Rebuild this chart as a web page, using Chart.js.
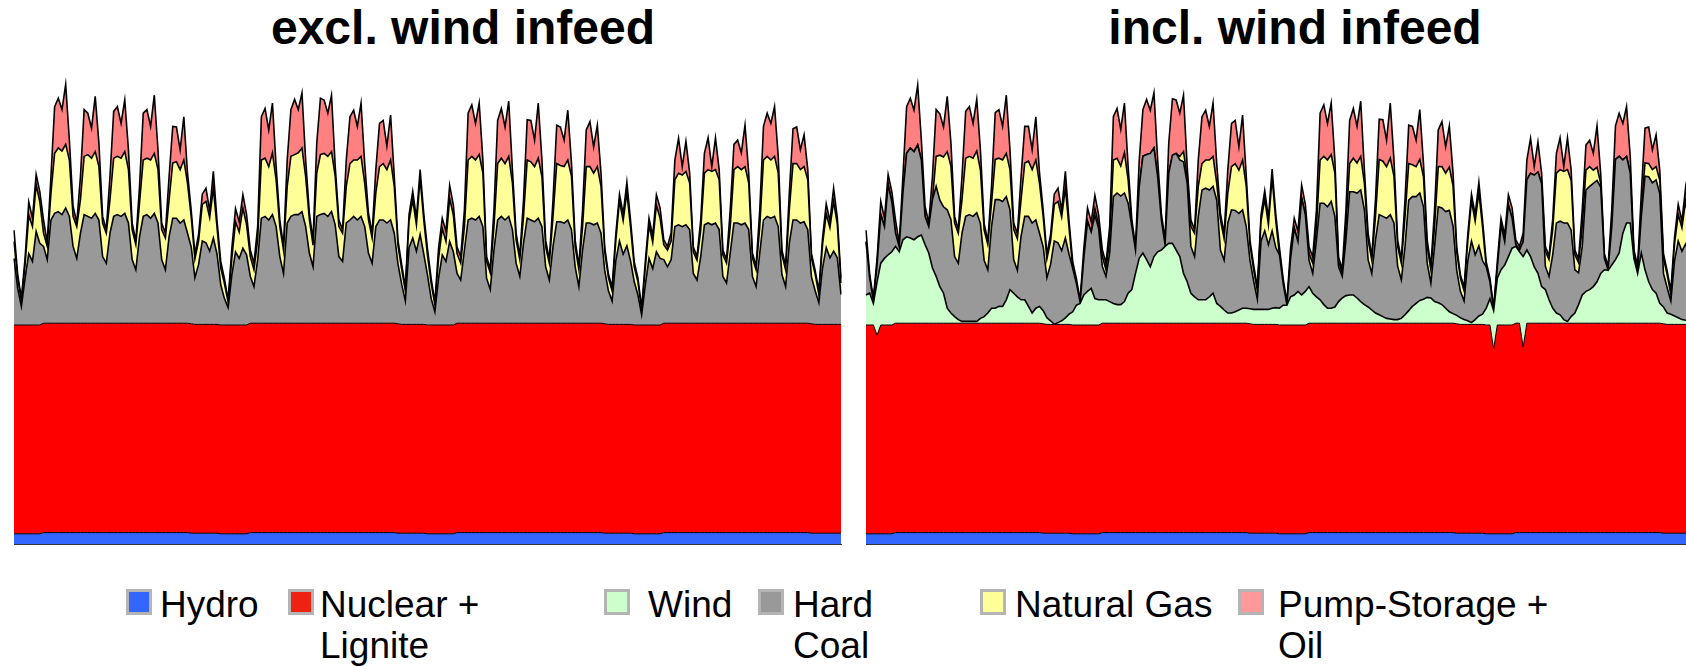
<!DOCTYPE html>
<html>
<head>
<meta charset="utf-8">
<script src="https://cdn.jsdelivr.net/npm/chart.js@4.4.1/dist/chart.umd.min.js"></script>
<style>
  html, body { margin: 0; padding: 0; background: #fff; overflow: hidden; width: 1686px; height: 666px; }
  body { position: relative; font-family: "Liberation Sans", Arial, Helvetica, sans-serif; color: #000; }
  .panel { position: absolute; top: 60px; }
  .title { position: absolute; top: 4px; font-weight: bold; font-size: 48px; line-height: 48px; white-space: nowrap; transform: translateX(-50%); }
  .key { position: absolute; top: 589px; width: 20px; height: 20px; border: 3px solid #b4b4b4; }
  .lab { position: absolute; top: 584px; font-size: 37px; line-height: 41px; white-space: nowrap; }
</style>
</head>
<body>
<div class="title" style="left:463px">excl. wind infeed</div>
<div class="title" style="left:1295px">incl. wind infeed</div>
<canvas id="excl" class="panel" style="left:12px" width="832" height="488"></canvas>
<canvas id="incl" class="panel" style="left:864px" width="832" height="488"></canvas>

<div class="key" style="left:126px;background:#3366ff"></div>
<div class="lab" style="left:160px">Hydro</div>
<div class="key" style="left:288px;background:#ee2211"></div>
<div class="lab" style="left:320px">Nuclear +<br>Lignite</div>
<div class="key" style="left:604px;background:#ccffcc"></div>
<div class="lab" style="left:648px">Wind</div>
<div class="key" style="left:758px;background:#999999"></div>
<div class="lab" style="left:793px">Hard<br>Coal</div>
<div class="key" style="left:980px;background:#ffff99"></div>
<div class="lab" style="left:1015px">Natural Gas</div>
<div class="key" style="left:1238px;background:#ff9999"></div>
<div class="lab" style="left:1278px">Pump-Storage +<br>Oil</div>

<script>
// 3-hourly values over four weeks (GW), one line per day, last value = end of day 28
const hydro = [
  1.7, 1.7, 1.7, 1.7, 1.7, 1.7, 1.7, 1.7,
  1.9, 1.9, 1.9, 1.9, 1.9, 1.9, 1.9, 1.9,
  1.9, 1.9, 1.9, 1.9, 1.9, 1.9, 1.9, 1.9,
  1.9, 1.9, 1.9, 1.9, 1.9, 1.9, 1.9, 1.9,
  1.9, 1.9, 1.9, 1.9, 1.9, 1.9, 1.9, 1.9,
  1.9, 1.9, 1.9, 1.9, 1.9, 1.9, 1.9, 1.9,
  1.8, 1.8, 1.8, 1.8, 1.8, 1.8, 1.8, 1.8,
  1.7, 1.7, 1.7, 1.7, 1.7, 1.7, 1.7, 1.7,
  1.9, 1.9, 1.9, 1.9, 1.9, 1.9, 1.9, 1.9,
  1.9, 1.9, 1.9, 1.9, 1.9, 1.9, 1.9, 1.9,
  1.9, 1.9, 1.9, 1.9, 1.9, 1.9, 1.9, 1.9,
  1.9, 1.9, 1.9, 1.9, 1.9, 1.9, 1.9, 1.9,
  1.9, 1.9, 1.9, 1.9, 1.9, 1.9, 1.9, 1.9,
  1.8, 1.8, 1.8, 1.8, 1.8, 1.8, 1.8, 1.8,
  1.7, 1.7, 1.7, 1.7, 1.7, 1.7, 1.7, 1.7,
  1.9, 1.9, 1.9, 1.9, 1.9, 1.9, 1.9, 1.9,
  1.9, 1.9, 1.9, 1.9, 1.9, 1.9, 1.9, 1.9,
  1.9, 1.9, 1.9, 1.9, 1.9, 1.9, 1.9, 1.9,
  1.9, 1.9, 1.9, 1.9, 1.9, 1.9, 1.9, 1.9,
  1.9, 1.9, 1.9, 1.9, 1.9, 1.9, 1.9, 1.9,
  1.8, 1.8, 1.8, 1.8, 1.8, 1.8, 1.8, 1.8,
  1.7, 1.7, 1.7, 1.7, 1.7, 1.7, 1.7, 1.7,
  1.9, 1.9, 1.9, 1.9, 1.9, 1.9, 1.9, 1.9,
  1.9, 1.9, 1.9, 1.9, 1.9, 1.9, 1.9, 1.9,
  1.9, 1.9, 1.9, 1.9, 1.9, 1.9, 1.9, 1.9,
  1.9, 1.9, 1.9, 1.9, 1.9, 1.9, 1.9, 1.9,
  1.9, 1.9, 1.9, 1.9, 1.9, 1.9, 1.9, 1.9,
  1.8, 1.8, 1.8, 1.8, 1.8, 1.8, 1.8, 1.8,
  1.8
];

const nuclearLignite = [
  34.8, 34.8, 34.8, 34.8, 34.8, 34.8, 34.8, 34.8,
  34.9, 34.9, 34.9, 34.9, 34.9, 34.9, 34.9, 34.9,
  34.9, 34.9, 34.9, 34.9, 34.9, 34.9, 34.9, 34.9,
  34.9, 34.9, 34.9, 34.9, 34.9, 34.9, 34.9, 34.9,
  34.9, 34.9, 34.9, 34.9, 34.9, 34.9, 34.9, 34.9,
  34.9, 34.9, 34.9, 34.9, 34.9, 34.9, 34.9, 34.9,
  34.9, 34.8, 34.8, 34.8, 34.8, 34.8, 34.8, 34.8,
  34.8, 34.8, 34.8, 34.8, 34.8, 34.8, 34.8, 34.8,
  34.9, 34.9, 34.9, 34.9, 34.9, 34.9, 34.9, 34.9,
  34.9, 34.9, 34.9, 34.9, 34.9, 34.9, 34.9, 34.9,
  34.9, 34.9, 34.9, 34.9, 34.9, 34.9, 34.9, 34.9,
  34.9, 34.9, 34.9, 34.9, 34.9, 34.9, 34.9, 34.9,
  34.9, 34.9, 34.9, 34.9, 34.9, 34.9, 34.9, 34.9,
  34.9, 34.8, 34.8, 34.8, 34.8, 34.8, 34.8, 34.8,
  34.8, 34.8, 34.8, 34.8, 34.8, 34.8, 34.8, 34.8,
  34.9, 34.9, 34.9, 34.9, 34.9, 34.9, 34.9, 34.9,
  34.9, 34.9, 34.9, 34.9, 34.9, 34.9, 34.9, 34.9,
  34.9, 34.9, 34.9, 34.9, 34.9, 34.9, 34.9, 34.9,
  34.9, 34.9, 34.9, 34.9, 34.9, 34.9, 34.9, 34.9,
  34.9, 34.9, 34.9, 34.9, 34.9, 34.9, 34.9, 34.9,
  34.9, 34.8, 34.8, 34.8, 34.8, 34.8, 34.8, 34.8,
  34.8, 34.8, 34.8, 34.8, 34.8, 34.8, 34.8, 34.8,
  34.9, 34.9, 34.9, 34.9, 34.9, 34.9, 34.9, 34.9,
  34.9, 34.9, 34.9, 34.9, 34.9, 34.9, 34.9, 34.9,
  34.9, 34.9, 34.9, 34.9, 34.9, 34.9, 34.9, 34.9,
  34.9, 34.9, 34.9, 34.9, 34.9, 34.9, 34.9, 34.9,
  34.9, 34.9, 34.9, 34.9, 34.9, 34.9, 34.9, 34.9,
  34.9, 34.8, 34.8, 34.8, 34.8, 34.8, 34.8, 34.8,
  34.8
];

// lignite backed off when wind is strong (right panel only): hour, GW
const curtailHours = [9, 510, 534];
const curtailGW = [1.7, 4.0, 4.0];

const hardCoal = [
  11.1, 6.1, 3.1, 7.8, 11.9, 10.6, 15.6, 13.6,
  12.8, 10.6, 17.2, 18.3, 18.6, 18.1, 19.2, 17.8,
  12.8, 10.8, 15.0, 18.1, 17.8, 17.5, 18.3, 17.2,
  11.1, 10.0, 15.0, 17.8, 18.1, 17.8, 18.3, 16.7,
  10.6, 8.9, 14.4, 17.8, 18.1, 17.5, 18.3, 16.7,
  10.6, 8.9, 14.4, 17.5, 17.5, 16.7, 17.2, 15.0,
  12.8, 7.8, 10.0, 13.9, 13.6, 12.2, 14.4, 11.7,
  6.7, 4.4, 2.9, 8.3, 12.2, 11.1, 12.8, 11.7,
  7.8, 6.1, 10.6, 17.5, 17.8, 17.2, 18.1, 16.1,
  11.1, 8.3, 16.7, 17.8, 18.1, 18.1, 18.6, 16.1,
  11.7, 9.4, 17.8, 18.1, 18.3, 17.8, 18.6, 16.4,
  11.1, 10.3, 16.7, 17.2, 17.8, 17.2, 17.8, 16.1,
  11.7, 10.0, 16.1, 17.2, 17.2, 16.7, 17.2, 15.0,
  10.0, 6.7, 3.9, 12.8, 14.4, 12.2, 15.0, 11.7,
  8.3, 4.4, 2.2, 7.8, 11.7, 10.6, 13.9, 12.2,
  8.3, 7.2, 12.2, 17.2, 17.5, 17.2, 17.8, 16.1,
  7.5, 5.6, 12.2, 17.2, 17.8, 17.2, 17.8, 15.6,
  10.0, 7.8, 13.3, 17.5, 17.2, 16.9, 17.5, 16.1,
  9.4, 7.2, 12.8, 16.9, 16.9, 16.7, 17.2, 15.6,
  9.4, 6.1, 12.2, 16.7, 16.7, 16.4, 16.7, 15.0,
  8.9, 5.6, 3.9, 10.6, 13.9, 11.7, 13.1, 10.6,
  7.2, 5.0, 1.7, 6.7, 11.1, 9.4, 12.2, 11.1,
  10.6, 9.4, 10.6, 16.1, 16.4, 16.1, 16.4, 15.6,
  8.3, 7.2, 11.1, 16.4, 16.7, 16.4, 16.7, 15.6,
  7.8, 6.7, 11.7, 16.7, 16.7, 16.4, 16.7, 15.6,
  7.8, 6.1, 11.7, 17.2, 17.8, 17.5, 17.8, 16.1,
  8.1, 6.1, 13.3, 17.2, 17.2, 16.7, 16.9, 15.6,
  7.8, 5.6, 3.6, 9.4, 12.8, 11.1, 12.2, 11.1,
  5.0
];

const naturalGas = [
  2.8, 1.7, 0.9, 2.2, 6.4, 5.8, 7.8, 6.9,
  2.2, 2.2, 4.4, 10.0, 10.6, 10.6, 10.6, 9.4,
  5.0, 5.3, 5.6, 9.7, 10.3, 10.0, 10.3, 8.9,
  5.6, 5.0, 5.6, 9.7, 9.7, 9.7, 10.3, 8.9,
  5.0, 4.2, 5.6, 9.4, 9.4, 9.7, 10.0, 8.9,
  5.0, 5.3, 6.1, 9.2, 9.4, 8.9, 10.0, 8.3,
  5.0, 3.1, 3.9, 6.1, 6.9, 5.6, 8.3, 4.4,
  2.8, 2.5, 0.9, 2.8, 5.0, 4.4, 6.7, 5.0,
  3.3, 2.8, 3.3, 9.7, 9.7, 8.9, 10.3, 7.8,
  5.0, 3.9, 6.1, 10.0, 10.0, 10.3, 10.6, 8.3,
  5.6, 3.6, 7.2, 10.0, 10.0, 10.0, 10.0, 8.1,
  5.0, 4.7, 6.1, 9.4, 9.4, 10.0, 10.0, 7.2,
  5.6, 4.2, 5.6, 8.9, 9.4, 8.9, 10.0, 7.8,
  3.1, 2.5, 1.7, 4.4, 6.4, 4.4, 9.4, 5.6,
  3.3, 2.5, 1.2, 3.3, 4.4, 3.3, 7.2, 6.1,
  3.3, 2.8, 3.9, 10.0, 10.3, 10.0, 10.3, 8.9,
  2.8, 2.8, 3.9, 9.4, 9.7, 9.4, 10.0, 7.8,
  3.9, 2.8, 4.4, 9.7, 9.7, 9.2, 10.0, 8.3,
  3.3, 2.8, 5.0, 9.7, 9.4, 9.4, 10.0, 8.9,
  3.3, 2.8, 3.9, 9.4, 9.4, 8.6, 9.4, 7.8,
  3.1, 2.2, 1.7, 3.3, 6.7, 5.6, 8.9, 5.6,
  2.5, 2.2, 0.8, 2.8, 5.6, 4.4, 7.8, 6.7,
  2.5, 2.8, 3.1, 7.8, 8.6, 8.6, 8.9, 7.8,
  3.6, 3.3, 4.4, 8.6, 8.9, 8.9, 8.9, 8.3,
  3.6, 3.3, 4.4, 8.9, 9.4, 9.2, 9.4, 7.8,
  3.1, 2.8, 4.4, 10.0, 10.0, 9.7, 10.0, 8.9,
  3.3, 2.8, 5.6, 9.4, 9.4, 8.9, 9.2, 8.3,
  3.1, 2.8, 1.4, 3.9, 5.6, 5.0, 8.3, 5.6,
  1.9
];

const pumpOil = [
  1.9, 0.6, 0.4, 1.1, 2.2, 1.4, 1.7, 1.7,
  2.2, 0.6, 2.8, 7.8, 8.3, 6.9, 10.0, 3.3,
  1.7, 0.6, 3.9, 7.8, 6.9, 5.0, 9.2, 3.9,
  1.1, 0.6, 3.9, 7.8, 8.3, 5.8, 8.6, 3.3,
  1.1, 0.6, 2.8, 7.8, 8.1, 5.6, 9.7, 3.3,
  1.1, 0.8, 3.9, 6.1, 5.8, 3.3, 7.2, 1.7,
  1.1, 0.8, 1.1, 1.7, 2.2, 1.1, 2.8, 1.1,
  1.1, 0.8, 0.4, 1.7, 2.2, 1.7, 2.2, 1.7,
  1.1, 1.1, 2.2, 7.2, 8.3, 6.1, 8.3, 2.2,
  1.1, 0.6, 4.4, 7.8, 9.2, 7.2, 9.2, 2.8,
  1.1, 0.8, 5.0, 9.4, 8.9, 7.2, 9.4, 1.7,
  1.1, 0.6, 4.4, 7.8, 8.3, 5.6, 8.9, 3.3,
  1.1, 0.8, 3.9, 7.2, 7.2, 3.9, 7.5, 1.7,
  0.8, 0.8, 0.6, 1.1, 1.4, 1.1, 1.4, 1.1,
  1.1, 0.8, 0.4, 1.7, 1.7, 1.7, 2.2, 1.7,
  1.1, 1.1, 2.8, 7.8, 8.6, 6.1, 8.6, 2.2,
  0.8, 0.6, 2.8, 7.2, 8.3, 6.1, 9.2, 2.2,
  1.1, 0.6, 2.8, 6.7, 6.9, 4.4, 9.2, 2.8,
  1.1, 0.6, 2.8, 6.4, 6.4, 4.4, 8.3, 2.2,
  1.1, 0.6, 2.8, 6.1, 7.5, 4.4, 6.9, 2.2,
  0.8, 0.6, 0.6, 1.1, 1.1, 1.1, 1.7, 1.1,
  0.8, 0.6, 0.3, 1.1, 1.1, 1.1, 1.7, 1.7,
  0.8, 0.6, 1.4, 3.3, 5.8, 1.4, 5.0, 1.7,
  0.8, 0.6, 1.7, 3.3, 5.3, 0.8, 5.3, 1.7,
  0.8, 0.6, 2.8, 4.2, 4.4, 2.8, 6.9, 1.7,
  0.8, 0.6, 2.8, 5.6, 7.2, 6.1, 8.3, 2.8,
  0.8, 0.6, 2.8, 5.8, 6.1, 3.3, 5.3, 1.7,
  0.8, 0.6, 0.6, 1.1, 1.7, 1.1, 2.2, 1.1,
  0.8
];

const wind = [
  5.0, 5.3, 3.6, 8.9, 10.3, 11.1, 11.7, 12.2,
  12.8, 11.9, 13.9, 14.4, 14.2, 13.9, 14.4, 14.7,
  13.1, 11.7, 9.2, 7.8, 6.1, 5.0, 2.5, 1.7,
  1.1, 0.6, 0.3, 0.3, 0.3, 0.3, 0.3, 0.8,
  1.1, 1.7, 2.5, 2.5, 2.8, 2.8, 3.9, 5.6,
  5.0, 4.4, 3.9, 3.9, 2.8, 1.7, 2.5, 2.8,
  2.2, 1.1, 0.6, 0.0, 0.3, 0.6, 1.1, 1.7,
  2.2, 3.3, 3.6, 5.0, 5.6, 6.1, 4.4, 4.2,
  3.9, 3.9, 3.6, 3.3, 3.1, 3.1, 3.6, 5.0,
  5.6, 8.3, 10.8, 11.7, 10.6, 9.4, 11.1, 11.9,
  12.2, 12.8, 13.3, 13.3, 12.2, 11.1, 8.3, 6.9,
  5.0, 4.4, 3.9, 3.9, 3.9, 4.4, 5.0, 3.3,
  2.8, 2.2, 1.7, 1.7, 1.9, 2.2, 2.5, 2.5,
  2.5, 2.5, 2.5, 2.5, 2.5, 2.5, 2.7, 2.8,
  2.8, 3.3, 3.3, 4.7, 5.0, 5.6, 5.0, 5.6,
  6.1, 5.0, 4.4, 3.9, 3.1, 2.5, 2.5, 2.7,
  3.6, 4.2, 4.6, 4.7, 4.7, 4.2, 3.6, 3.1,
  2.7, 2.2, 1.7, 1.4, 1.1, 0.8, 0.7, 0.6,
  0.6, 0.8, 1.4, 2.1, 2.8, 3.3, 3.8, 4.0,
  4.3, 4.2, 3.6, 3.4, 3.1, 2.5, 1.9, 1.6,
  1.4, 1.1, 0.8, 0.6, 0.3, 0.8, 1.4, 1.7,
  2.8, 4.4, 6.4, 7.8, 9.2, 10.0, 11.4, 12.8,
  12.8, 11.9, 15.1, 12.2, 11.1, 9.4, 8.3, 6.1,
  5.6, 3.9, 2.5, 1.7, 1.4, 0.6, 0.3, 1.1,
  1.7, 3.1, 4.7, 5.3, 5.6, 6.1, 6.9, 8.3,
  8.9, 8.8, 9.7, 10.6, 11.7, 15.0, 16.7, 16.7,
  10.8, 8.3, 11.7, 8.9, 6.9, 5.6, 5.0, 3.3,
  2.8, 1.9, 1.7, 1.4, 1.1, 0.8, 0.7, 0.6,
  0.6
];

const hardCoalIncl = [
  8.9, 2.5, 0.4, 2.8, 8.1, 5.3, 11.7, 8.3,
  2.2, 0.8, 7.8, 13.9, 15.0, 14.7, 15.3, 12.5,
  4.7, 4.4, 11.4, 15.0, 14.4, 14.4, 16.4, 15.6,
  10.0, 9.4, 14.7, 17.5, 17.8, 17.5, 18.1, 15.8,
  9.4, 7.2, 13.6, 18.1, 17.8, 17.5, 17.2, 13.3,
  5.6, 4.4, 10.6, 13.9, 15.0, 15.0, 14.7, 12.2,
  10.6, 6.7, 9.4, 13.9, 13.3, 11.7, 13.3, 10.0,
  7.2, 3.6, 0.2, 6.1, 11.7, 9.4, 13.9, 11.9,
  5.6, 3.9, 8.1, 17.8, 18.6, 18.1, 18.1, 15.0,
  10.6, 3.9, 11.9, 16.1, 17.5, 18.9, 18.1, 12.5,
  5.0, 0.3, 11.7, 14.7, 16.1, 16.1, 18.6, 16.4,
  7.8, 6.7, 13.9, 18.3, 18.6, 17.8, 17.8, 17.2,
  9.4, 8.3, 15.0, 17.2, 16.9, 16.1, 16.4, 13.6,
  8.1, 4.7, 1.7, 11.4, 13.1, 10.8, 12.9, 10.0,
  8.9, 3.6, 0.1, 6.4, 11.1, 8.3, 16.1, 12.8,
  4.4, 3.3, 9.4, 16.1, 16.9, 16.9, 17.8, 15.1,
  5.8, 3.6, 9.3, 17.2, 17.2, 17.5, 18.6, 15.8,
  7.9, 6.1, 12.2, 16.7, 16.7, 16.7, 17.4, 16.1,
  8.9, 6.4, 11.4, 18.4, 18.3, 17.8, 17.9, 15.4,
  5.7, 2.5, 9.2, 16.0, 16.1, 16.1, 16.9, 14.6,
  7.5, 4.4, 3.1, 10.0, 13.6, 10.8, 11.7, 8.9,
  6.9, 2.8, 0.1, 1.7, 7.5, 3.9, 8.6, 5.0,
  0.3, 0.3, 2.5, 11.7, 13.9, 15.3, 16.9, 17.2,
  3.9, 3.9, 8.9, 15.0, 15.6, 16.1, 16.4, 14.4,
  7.2, 5.3, 8.1, 16.9, 17.2, 17.2, 16.9, 14.4,
  1.9, 0.1, 6.4, 16.7, 16.1, 12.2, 11.1, 8.3,
  0.6, 0.6, 6.1, 15.6, 17.5, 17.8, 18.9, 18.3,
  5.6, 4.2, 2.2, 9.2, 12.8, 11.4, 12.7, 11.1,
  4.7
];

const naturalGasIncl = [
  0, 0, 0, 0, 0, 0, 0, 0,
  0, 0, 0, 0, 0, 0, 0, 0,
  0, 0, 0, 5.0, 7.5, 8.3, 9.7, 8.9,
  5.6, 5.0, 5.6, 9.7, 9.7, 9.7, 10.3, 8.9,
  5.0, 4.2, 3.9, 6.7, 6.9, 6.9, 7.2, 6.7,
  5.0, 5.3, 6.1, 8.9, 9.2, 8.9, 10.0, 8.3,
  5.0, 3.1, 3.9, 6.1, 6.9, 5.6, 8.3, 4.4,
  0, 0, 0, 0, 0, 0, 1.1, 0.6,
  1.7, 1.1, 2.2, 6.1, 5.8, 5.0, 6.7, 3.9,
  0, 0, 0, 0, 0, 0, 0, 0,
  0, 0, 0, 0, 0, 0.6, 1.7, 1.1,
  3.3, 3.9, 5.0, 4.4, 4.7, 5.0, 5.0, 2.8,
  5.0, 3.6, 5.0, 7.2, 7.8, 7.2, 8.3, 6.7,
  2.5, 1.9, 1.4, 3.3, 5.3, 3.3, 8.9, 4.4,
  0, 0, 0, 0, 0, 0, 0, 0,
  1.1, 1.7, 2.2, 7.2, 7.8, 7.8, 7.8, 7.2,
  0.8, 0.6, 2.2, 4.7, 5.6, 5.0, 5.6, 4.4,
  3.3, 2.2, 3.9, 9.2, 9.2, 8.6, 9.4, 7.8,
  3.3, 2.8, 5.0, 6.1, 5.3, 5.0, 5.6, 5.0,
  2.8, 2.2, 3.3, 6.7, 6.9, 6.4, 7.2, 6.7,
  3.1, 2.2, 1.7, 3.3, 6.7, 5.6, 8.9, 5.6,
  0, 0, 0, 0, 0, 0, 0, 0,
  0, 0, 0, 0, 0, 0, 0, 0,
  2.5, 2.8, 4.2, 8.3, 8.6, 8.6, 8.9, 8.3,
  2.5, 1.7, 3.3, 3.3, 3.3, 2.2, 2.2, 0.6,
  0, 0, 0, 0, 0, 0, 0, 0,
  0, 0, 1.1, 2.2, 2.2, 2.2, 2.2, 2.2,
  2.5, 2.2, 1.1, 2.8, 4.4, 3.9, 7.2, 5.0,
  1.7
];

// time axis: hour of the period, every 3 hours
const hours = [];
for (let h = 0; h <= 672; h += 3) hours.push(h);

const nuclearLigniteIncl = nuclearLignite.slice();
curtailHours.forEach((h, i) => { nuclearLigniteIncl[h / 3] -= curtailGW[i]; });

function layer(label, data, color, fill, width) {
    return {
        label: label,
        data: data,
        backgroundColor: color,
        borderColor: '#000',
        borderWidth: width,
        fill: fill,
        pointRadius: 0,
        tension: 0
    };
}

function panelOptions() {
    return {
        responsive: false,
        animation: false,
        layout: { padding: { left: 2, right: 3, top: 4, bottom: 4 } },
        plugins: { legend: { display: false }, tooltip: { enabled: false } },
        scales: {
            x: {
                ticks: { display: false },
                grid: { display: false, drawTicks: false },
                border: { display: true, color: '#333', width: 1 }
            },
            y: {
                stacked: true, min: 0, max: 80,
                ticks: { display: false },
                grid: { display: false, drawTicks: false },
                border: { display: false }
            }
        }
    };
}

new Chart(document.getElementById('excl'), {
    type: 'line',
    data: {
        labels: hours,
        datasets: [
            layer('Hydro', hydro, '#3366ff', 'origin', 1),
            layer('Nuclear + Lignite', nuclearLignite, '#ff0000', '-1', 1),
            layer('Hard Coal', hardCoal, '#999999', '-1', 1.6),
            layer('Natural Gas', naturalGas, '#ffff99', '-1', 1.6),
            layer('Pump-Storage + Oil', pumpOil, '#ff8080', '-1', 1.6)
        ]
    },
    options: panelOptions()
});

new Chart(document.getElementById('incl'), {
    type: 'line',
    data: {
        labels: hours,
        datasets: [
            layer('Hydro', hydro, '#3366ff', 'origin', 1),
            layer('Nuclear + Lignite', nuclearLigniteIncl, '#ff0000', '-1', 1),
            layer('Wind', wind, '#ccffcc', '-1', 1.6),
            layer('Hard Coal', hardCoalIncl, '#999999', '-1', 1.6),
            layer('Natural Gas', naturalGasIncl, '#ffff99', '-1', 1.6),
            layer('Pump-Storage + Oil', pumpOil, '#ff8080', '-1', 1.6)
        ]
    },
    options: panelOptions()
});
</script>
</body>
</html>
